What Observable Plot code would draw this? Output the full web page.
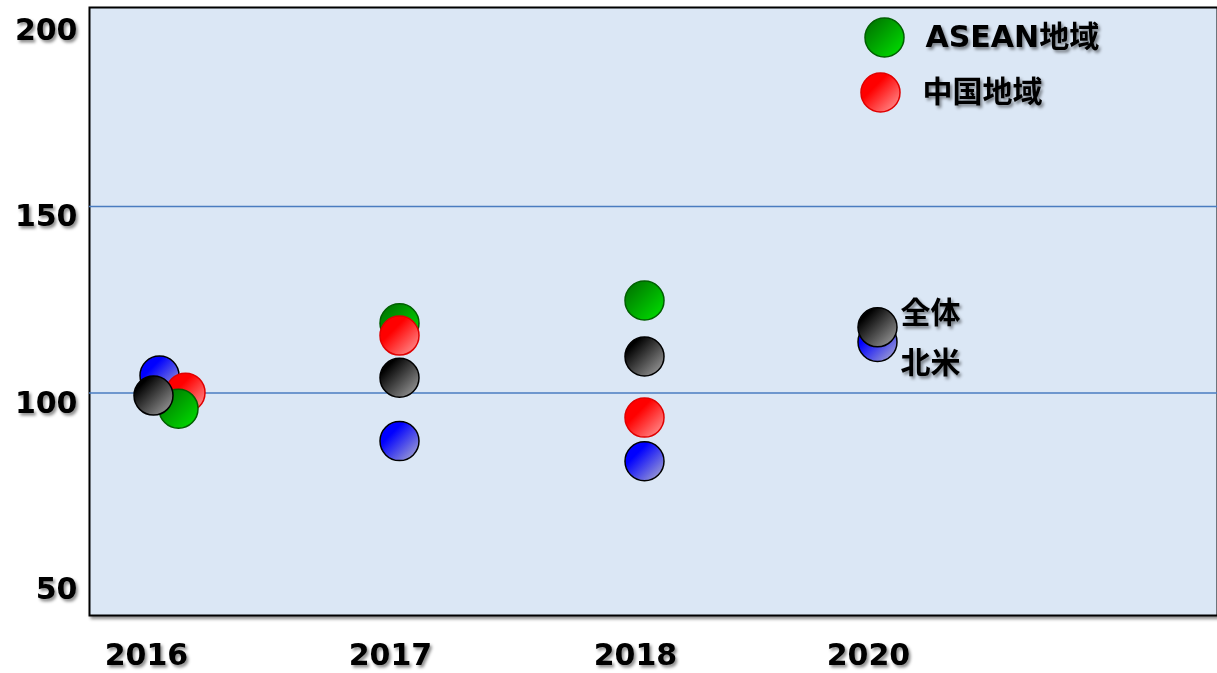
<!DOCTYPE html>
<html><head><meta charset="utf-8">
<script src="https://cdn.jsdelivr.net/npm/d3@7"></script>
<script src="https://cdn.jsdelivr.net/npm/@observablehq/plot@0.6"></script>
<style>body{margin:0;background:#fff;overflow:hidden}</style>
</head><body><div id="chart"></div>
<script>
// ---- data ----
const years = ["2016", "2017", "2018", "2020"];
const seriesNames = ["全体", "北米", "中国地域", "ASEAN地域"];
const total        = [99.3, 104.1, 109.8, 117.6];
const northAmerica = [104.7, 87.1, 81.7, 113.7];
const china        = [100.1, 115.4, 93.4, null];
const asean        = [95.8, 118.7, 124.8, null];
const yTicks = [50, 100, 150, 200];
const gridValues = [100, 150];
const legendLabels = ["ASEAN地域", "中国地域"];

const rows = (series, vals) => years.map((year, i) => ({year, idx: i, series, value: vals[i]})).filter(d => d.value != null);
const dTotal = rows(seriesNames[0], total);
const dNA = rows(seriesNames[1], northAmerica);
const dChina = rows(seriesNames[2], china);
const dAsean = rows(seriesNames[3], asean);

const is16 = d => d.year === "2016";
const not16 = d => d.year !== "2016";
const R = 19.5;
const FONT = "'DejaVu Sans', 'Noto Sans CJK JP', sans-serif";

const st = {
  black: {fill: "url(#gBlack)", stroke: "#000", strokeWidth: 1.5},
  blue: {fill: "url(#gBlue)", stroke: "#000", strokeWidth: 1.5},
  red: {fill: "url(#gRed)", stroke: "#e00000", strokeWidth: 1.5},
  green: {fill: "url(#gGreen)", stroke: "#006000", strokeWidth: 1.5}
};

const plot = Plot.plot({
  width: 1217,
  height: 673,
  marginLeft: 89,
  marginTop: 7,
  marginRight: 0,
  marginBottom: 58,
  style: {fontFamily: FONT, fontSize: "30px", fontWeight: "bold", color: "#000", background: "transparent"},
  // piecewise-linear placement of the (unevenly spaced) year categories
  x: {type: "linear", domain: [0, 1, 2, 3], range: [155, 399, 644, 877]},
  y: {domain: [40.35, 203.35]},
  marks: [
    Plot.frame({fill: "#dbe7f5", stroke: "#000", strokeWidth: 2}),
    Plot.ruleY(gridValues, {stroke: "#4a7cc0", strokeWidth: 1.6}),
    Plot.axisY({ticks: yTicks, tickSize: 0, tickPadding: 12, dy: 10, label: null, fontSize: 30, fontWeight: "bold"}),
    Plot.axisX({ticks: years.map((_, i) => i), tickFormat: i => years[i], tickSize: 0, tickPadding: 28, dx: -9, label: null, fontSize: 30, fontWeight: "bold"}),
    // blue
    Plot.dot(dNA.filter(not16), {x: "idx", y: "value", r: R, ...st.blue}),
    Plot.dot(dNA.filter(is16), {x: "idx", y: "value", r: R, dx: 4, ...st.blue}),
    // green & red (non-2016: red over green)
    Plot.dot(dAsean.filter(not16), {x: "idx", y: "value", r: R, ...st.green}),
    Plot.dot(dChina.filter(not16), {x: "idx", y: "value", r: R, ...st.red}),
    // 2016: green over red
    Plot.dot(dChina.filter(is16), {x: "idx", y: "value", r: R, dx: 30, ...st.red}),
    Plot.dot(dAsean.filter(is16), {x: "idx", y: "value", r: R, dx: 23, ...st.green}),
    // black
    Plot.dot(dTotal.filter(not16), {x: "idx", y: "value", r: R, ...st.black}),
    Plot.dot(dTotal.filter(is16), {x: "idx", y: "value", r: R, dx: -2, ...st.black}),
    // annotations at 2020
    Plot.text(dTotal.filter(d => d.year === "2020"), {x: "idx", y: "value", text: "series", dx: 23, dy: -14, textAnchor: "start", fontSize: 30, fontWeight: "bold"}),
    Plot.text(dNA.filter(d => d.year === "2020"), {x: "idx", y: "value", text: "series", dx: 23, dy: 21, textAnchor: "start", fontSize: 30, fontWeight: "bold"}),
    // legend
    Plot.dot([0], {frameAnchor: "top-left", dx: 795, dy: 30, r: R, ...st.green}),
    Plot.dot([0], {frameAnchor: "top-left", dx: 791, dy: 85, r: R, ...st.red}),
    Plot.text([legendLabels[0]], {frameAnchor: "top-left", lineAnchor: "middle", text: d => d, dx: 836, dy: 30, textAnchor: "start", fontSize: 30, fontWeight: "bold"}),
    Plot.text([legendLabels[1]], {frameAnchor: "top-left", lineAnchor: "middle", text: d => d, dx: 833, dy: 85, textAnchor: "start", fontSize: 30, fontWeight: "bold"})
  ]
});

const defs = `
<defs>
  <linearGradient id="gBlack" x1="0" y1="0" x2="1" y2="1">
    <stop offset="0.2" stop-color="#000"/><stop offset="1" stop-color="#a8a8a8"/>
  </linearGradient>
  <linearGradient id="gBlue" x1="0" y1="0" x2="1" y2="1">
    <stop offset="0.3" stop-color="#0000ff"/><stop offset="1" stop-color="#b4b4cc"/>
  </linearGradient>
  <linearGradient id="gRed" x1="0" y1="0" x2="1" y2="1">
    <stop offset="0.35" stop-color="#ff0000"/><stop offset="1" stop-color="#ffa0a0"/>
  </linearGradient>
  <linearGradient id="gGreen" x1="0" y1="0" x2="1" y2="1">
    <stop offset="0" stop-color="#006a00"/><stop offset="1" stop-color="#00e600"/>
  </linearGradient>
  <filter id="tshadow" x="-20%" y="-20%" width="140%" height="160%">
    <feDropShadow dx="2" dy="2.5" stdDeviation="1.5" flood-color="#000" flood-opacity="0.45"/>
  </filter>
</defs>`;
plot.insertAdjacentHTML("afterbegin", defs);
d3.select(plot).selectAll("text").attr("filter", "url(#tshadow)");
d3.select(plot).select("[aria-label=frame]").attr("filter", "url(#tshadow)");
document.getElementById("chart").appendChild(plot);
</script>
</body></html>
